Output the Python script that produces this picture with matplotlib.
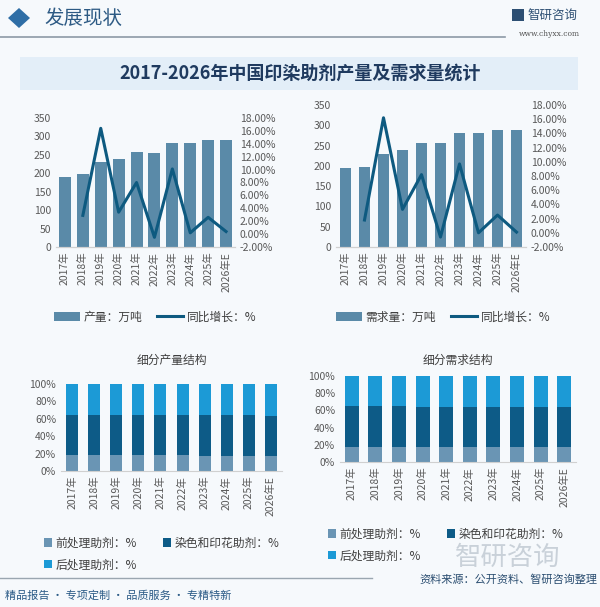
import numpy as np
import matplotlib
matplotlib.use('Agg')
import matplotlib.pyplot as plt
from matplotlib.patches import Rectangle, Polygon
from matplotlib.lines import Line2D

plt.rcParams['font.family'] = ['Noto Sans CJK SC', 'DejaVu Sans']

# data
years = ['2017年', '2018年', '2019年', '2020年', '2021年', '2022年',
         '2023年', '2024年', '2025年', '2026年E']
prod = [191, 199, 230, 238, 257, 255, 282, 282, 290, 290]
prod_yoy = [np.nan, 2.9, 16.4, 3.4, 8.0, -0.5, 10.1, 0.2, 2.6, 0.4]
demand = [194, 198, 230, 239, 257, 257, 282, 282, 289, 289]
demand_yoy = [np.nan, 1.8, 16.2, 3.3, 8.2, -0.6, 9.7, 0.0, 2.5, 0.1]

prod_pre = [18, 18, 18, 18, 18, 18, 17, 17, 17, 17]
prod_dye = [46, 46, 46, 46, 46, 46, 47, 47, 47, 46]
prod_post = [100 - a - b for a, b in zip(prod_pre, prod_dye)]
dem_pre = [17, 17, 17, 17, 17, 17, 17, 17, 17, 17]
dem_dye = [48.5, 48.5, 48.5, 47, 47, 47, 47, 47, 47, 47]
dem_post = [100 - a - b for a, b in zip(dem_pre, dem_dye)]

BAR = '#5a8aa8'
LINE = '#0e5a80'
C_PRE = '#6a95b4'
C_DYE = '#0d5b87'
C_POST = '#1c9ad6'
TXT = '#595959'

fig = plt.figure(figsize=(6, 6.07), dpi=100, facecolor='#f6f9fc')
W, H = 600, 607


def box(x0, y0, x1, y1):
    # pixel box (top-left origin) -> figure fraction rect
    return [x0 / W, 1 - y1 / H, (x1 - x0) / W, (y1 - y0) / H]


# header
fig.patches.append(Polygon([[8 / W, 1 - 18 / H], [19 / W, 1 - 8 / H], [30 / W, 1 - 18 / H],
                            [19 / W, 1 - 28 / H]], closed=True, transform=fig.transFigure,
                           facecolor='#2f6ea6', edgecolor='none'))
fig.text(44 / W, 1 - 18 / H, '发展现状', fontsize=14, color='#2d5a84', va='center', ha='left')
fig.add_artist(Line2D([0, 505 / W], [1 - 37 / H, 1 - 37 / H], color='#8d9aa6', lw=1.2))
fig.text(578 / W, 1 - 15 / H, '智研咨询', fontsize=9, color='#2d4f73', va='center', ha='right')
fig.patches.append(Rectangle((512 / W, 1 - 21 / H), 12 / W, 12 / H, transform=fig.transFigure,
                             facecolor='#2d4f73', edgecolor='none'))
fig.text(580 / W, 1 - 34 / H, 'www.chyxx.com', fontsize=5.5, color='#555555', va='center',
         ha='right', family='DejaVu Serif')

# title band
fig.patches.append(Rectangle((20 / W, 1 - 90 / H), 558 / W, 33 / H, transform=fig.transFigure,
                             facecolor='#e3eef8', edgecolor='none'))
fig.text(300 / W, 1 - 73 / H, '2017-2026年中国印染助剂产量及需求量统计', fontsize=13,
         fontweight='bold', color='#1f3a5f', ha='center', va='center')


def style(ax):
    for s in ['top', 'right', 'left']:
        ax.spines[s].set_visible(False)
    ax.spines['bottom'].set_color('#d0d0d0')
    ax.tick_params(axis='both', length=0, colors=TXT, labelsize=7.5)
    ax.patch.set_alpha(0)


def combo(rect, vals, yoy, bw, lab_bar, leg_xy):
    ax = fig.add_axes(rect)
    x = np.arange(len(years))
    ax.bar(x, vals, width=bw, color=BAR, label=lab_bar)
    ax.set_ylim(0, 350)
    ax.set_yticks(range(0, 351, 50))
    ax.set_xlim(-0.5, len(years) - 0.5)
    ax.set_xticks(x)
    ax.set_xticklabels(years, rotation=90, fontsize=8)
    style(ax)
    ax2 = ax.twinx()
    ax2.plot(x, yoy, color=LINE, lw=2.2, label='同比增长：%')
    ax2.set_ylim(-2, 18)
    ax2.set_yticks(range(-2, 19, 2))
    ax2.set_yticklabels(['%.2f%%' % v for v in range(-2, 19, 2)])
    style(ax2)
    h1, l1 = ax.get_legend_handles_labels()
    h2, l2 = ax2.get_legend_handles_labels()
    ax.legend(h1 + h2, l1 + l2, loc='center', bbox_to_anchor=(leg_xy[0] / W, 1 - leg_xy[1] / H),
              bbox_transform=fig.transFigure, ncol=2, frameon=False, fontsize=8.5,
              handlelength=2.2, handleheight=0.9, columnspacing=1.3, handletextpad=0.3,
              labelcolor='#404040')
    return ax


combo(box(56, 118, 235, 247), prod, prod_yoy, 0.67, '产量：万吨', (155, 317))
combo(box(336, 105, 526, 247), demand, demand_yoy, 0.6, '需求量：万吨', (443, 317))


def stacked(rect, pre, dye, post, bw, title, pad, leg_xy):
    ax = fig.add_axes(rect)
    x = np.arange(len(years))
    b1 = ax.bar(x, pre, width=bw, color=C_PRE, label='前处理助剂：%')
    b2 = ax.bar(x, dye, width=bw, bottom=pre, color=C_DYE, label='染色和印花助剂：%')
    b3 = ax.bar(x, post, width=bw, bottom=np.add(pre, dye), color=C_POST, label='后处理助剂：%')
    ax.set_ylim(0, 100)
    ax.set_yticks(range(0, 101, 20))
    ax.set_yticklabels(['%d%%' % v for v in range(0, 101, 20)])
    ax.set_xlim(-0.5, len(years) - 0.5)
    ax.set_xticks(x)
    ax.set_xticklabels(years, rotation=90, fontsize=8)
    style(ax)
    ax.set_title(title, fontsize=8.5, color='#404040', pad=pad)
    ax.legend([b1, b3, b2], ['前处理助剂：%', '后处理助剂：%', '染色和印花助剂：%'],
              loc='upper left', bbox_to_anchor=(leg_xy[0] / W, 1 - leg_xy[1] / H),
              bbox_transform=fig.transFigure, ncol=2, frameon=False, fontsize=8.5,
              handlelength=0.7, handleheight=0.7, columnspacing=2.2, handletextpad=0.3,
              labelcolor='#404040', labelspacing=0.75)
    return ax


stacked(box(61, 384, 282, 471), prod_pre, prod_dye, prod_post, 0.54, '细分产量结构', 14.5,
        (33, 526))
stacked(box(340, 376, 576, 462), dem_pre, dem_dye, dem_post, 0.6, '细分需求结构', 8.5,
        (317, 517))

# footer
fig.text(508 / W, 1 - 557 / H, '智研咨询', fontsize=19, color='#c9d1d9', ha='center', va='center')
fig.add_artist(Line2D([0, 372 / W], [1 - 578 / H, 1 - 578 / H], color='#9aa6b0', lw=1.0))
fig.text(597 / W, 1 - 580 / H, '资料来源：公开资料、智研咨询整理', fontsize=8, color='#2a4d70',
         ha='right', va='center')
fig.text(5 / W, 1 - 596 / H, '精品报告 · 专项定制 · 品质服务 · 专精特新', fontsize=8,
         color='#2a5a86', ha='left', va='center')

fig.savefig('out.png', dpi=100, facecolor=fig.get_facecolor())
